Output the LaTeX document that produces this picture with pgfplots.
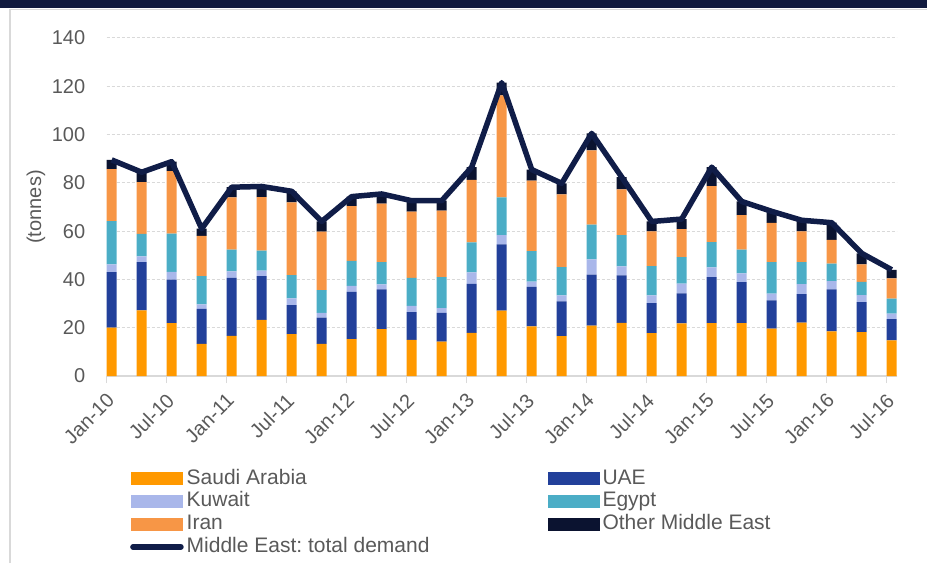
\documentclass[border=0pt]{standalone}
\usepackage{pgfplots}
\pgfplotsset{compat=1.18}
\usepackage{pgfplotstable}
\usepackage{fontspec}
\setmainfont{Liberation Sans}
\definecolor{saudi}{HTML}{FF9900}
\definecolor{uae}{HTML}{22409A}
\definecolor{kuwait}{HTML}{A9B7EA}
\definecolor{egypt}{HTML}{4BADC6}
\definecolor{iran}{HTML}{F79646}
\definecolor{other}{HTML}{0B1330}
\definecolor{total}{HTML}{101D48}
\definecolor{txt}{HTML}{595959}
\definecolor{gridc}{HTML}{D9D9D9}
\definecolor{band}{HTML}{111A3F}
\pgfplotsset{barleg/.style={legend image code/.code={\fill[##1] (0pt,-6.5pt) rectangle (52pt,6.5pt);}},
  lineleg/.style={legend image code/.code={\draw[##1] (2pt,0pt) -- (50pt,0pt);}}}
\pgfplotstableread{
x S U K E I O T
0 20.0 23.0 3.2 18.0 21.5 3.8 89.5
1 27.2 20.0 2.3 9.4 21.4 4.1 84.4
2 21.9 18.0 3.2 15.9 25.9 3.9 88.8
3 13.3 14.5 1.9 11.7 16.6 3.0 61.0
4 16.6 24.0 2.7 9.0 21.7 4.2 78.2
5 23.2 18.2 2.2 8.3 22.2 4.4 78.5
6 17.3 12.1 2.8 9.6 30.1 4.6 76.5
7 13.3 10.9 1.9 9.5 24.2 4.2 64.0
8 15.3 19.5 2.5 10.4 22.7 3.9 74.3
9 19.4 16.5 2.1 9.2 24.2 4.0 75.4
10 15.0 11.5 2.5 11.6 27.5 4.5 72.6
11 14.2 11.9 2.0 12.9 27.5 4.1 72.6
12 17.9 20.3 4.7 12.4 25.9 5.3 86.5
13 27.1 27.4 3.8 15.7 42.2 5.3 121.5
14 20.6 16.3 2.2 12.6 29.2 4.6 85.5
15 16.5 14.4 2.5 11.7 30.1 4.6 79.8
16 20.9 21.1 6.3 14.4 30.8 7.0 100.5
17 22.0 19.7 3.7 12.9 19.0 5.1 82.4
18 17.8 12.4 3.2 12.1 14.4 4.1 64.0
19 21.8 12.4 4.1 10.9 11.6 4.2 65.0
20 21.9 19.1 4.0 10.4 23.2 7.9 86.5
21 21.9 17.0 3.6 9.8 14.3 5.7 72.3
22 19.6 11.7 2.8 13.1 16.2 4.8 68.2
23 22.1 11.8 4.2 9.1 12.7 4.6 64.5
24 18.5 17.4 3.4 7.2 9.9 7.1 63.5
25 18.2 12.4 2.9 5.5 7.2 4.6 50.8
26 14.8 8.8 2.2 6.2 8.4 3.6 44.0
}\data
\begin{document}
\begin{tikzpicture}
\path[use as bounding box] (0pt,0pt) rectangle (927pt,563pt);
\fill[band] (0pt,555pt) rectangle (927pt,563pt);
\draw[gridc, line width=1.5pt] (10pt,0pt) -- (10pt,553.5pt) -- (927pt,553.5pt);
\begin{axis}[
  at={(106.7pt,187pt)}, anchor=south west,
  scale only axis, width=790pt, height=338pt,
  xmin=-0.16667, xmax=26.16667, ymin=0, ymax=140,
  ybar stacked, bar width=0.3333,
  axis lines*=left,
  y axis line style={draw=none},
  x axis line style={gridc, line width=2pt},
  xtick={-0.16667,1.83333,3.83333,5.83333,7.83333,9.83333,11.83333,13.83333,15.83333,17.83333,19.83333,21.83333,23.83333,25.83333},
  xticklabels={Jan-10,Jul-10,Jan-11,Jul-11,Jan-12,Jul-12,Jan-13,Jul-13,Jan-14,Jul-14,Jan-15,Jul-15,Jan-16,Jul-16},
  ytick={0,20,...,140},
  tick align=outside,
  major tick length=7pt,
  xtick style={gridc, line width=1.5pt},
  ytick style={draw=none},
  ymajorgrids,
  major grid style={gridc, dash pattern=on 3pt off 2pt, line width=1pt},
  tick label style={font=\fontsize{20}{24}\selectfont, text=txt},
  /pgf/number format/assume math mode=true,
  yticklabel style={xshift=-11pt},
  xticklabel style={xshift=4pt, yshift=-14pt, rotate=45, anchor=east, inner sep=0pt},
  ylabel={(tonnes)},
  ylabel style={at={(axis description cs:-0.0895,0.5)}, anchor=center, font=\fontsize{20}{24}\selectfont, text=txt},
  legend columns=2,
  legend cell align=left,
  legend style={draw=none, fill=none, at={(axis description cs:0.0295,-0.27)}, anchor=north west,
    font=\fontsize{21}{24}\selectfont, text=txt, inner sep=0pt, row sep=0pt,
    /tikz/every even column/.append style={column sep=115pt},
    nodes={inner xsep=3pt, inner ysep=1.6pt, text height=15pt, text depth=4.5pt}},
]
\addplot[fill=saudi, draw=none, barleg] table[x=x,y=S]{\data};
\addlegendentry{Saudi Arabia}
\addplot[fill=uae, draw=none, barleg] table[x=x,y=U]{\data};
\addlegendentry{UAE}
\addplot[fill=kuwait, draw=none, barleg] table[x=x,y=K]{\data};
\addlegendentry{Kuwait}
\addplot[fill=egypt, draw=none, barleg] table[x=x,y=E]{\data};
\addlegendentry{Egypt}
\addplot[fill=iran, draw=none, barleg] table[x=x,y=I]{\data};
\addlegendentry{Iran}
\addplot[fill=other, draw=none, barleg] table[x=x,y=O]{\data};
\addlegendentry{Other Middle East}
\addlegendimage{total, line width=5.5pt, line cap=round, lineleg}
\addlegendentry{Middle East:\ total demand}
\end{axis}
\begin{axis}[
  at={(106.7pt,187pt)}, anchor=south west,
  scale only axis, width=790pt, height=338pt,
  xmin=-0.16667, xmax=26.16667, ymin=0, ymax=140,
  hide axis,
]
\addplot[total, line width=5.5pt, line join=round, mark=none] table[x=x,y=T]{\data};
\end{axis}
\end{tikzpicture}
\end{document}
